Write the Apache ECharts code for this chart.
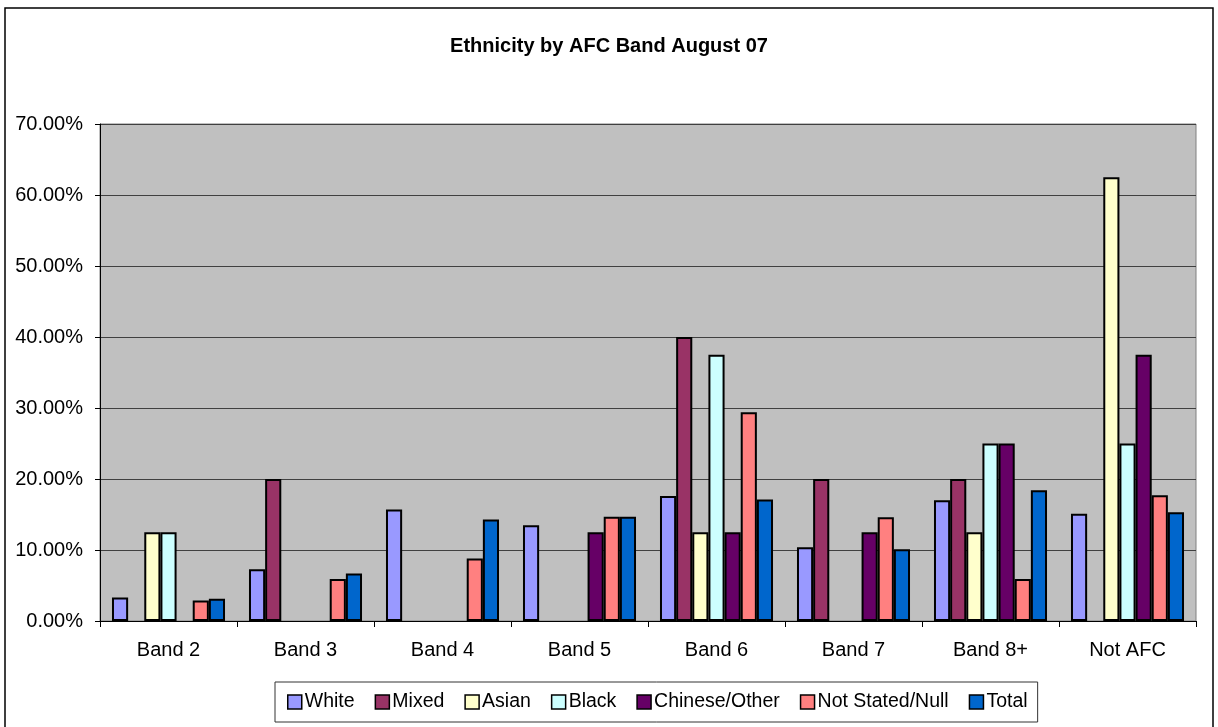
<!DOCTYPE html>
<html>
<head>
<meta charset="utf-8">
<title>Ethnicity by AFC Band August 07</title>
<script src="https://cdn.jsdelivr.net/npm/echarts@6/dist/echarts.min.js"></script>
<style>
  html, body { margin: 0; padding: 0; background: #ffffff; }
  #chart { width: 1218px; height: 727px; }
</style>
</head>
<body>
<div id="chart"></div>
<script>
// AFC pay bands along the category axis
const bands = ['Band 2', 'Band 3', 'Band 4', 'Band 5', 'Band 6', 'Band 7', 'Band 8+', 'Not AFC'];

// Share of each ethnic group in each band (percent); null = no staff
const white     = [3.3, 7.3, 15.7, 13.5, 17.6, 10.4, 17.0, 15.1];
const mixed     = [null, 20, null, null, 40, 20, 20, null];
const asian     = [12.5, null, null, null, 12.5, null, 12.5, 62.5];
const black     = [12.5, null, null, null, 37.5, null, 25, 25];
const chinese   = [null, null, null, 12.5, 12.5, 12.5, 25, 37.5];
const notStated = [2.9, 5.9, 8.8, 14.7, 29.4, 14.6, 5.9, 17.7];
const total     = [3.15, 6.7, 14.3, 14.7, 17.1, 10.1, 18.4, 15.3];

const seriesNames = ['White', 'Mixed', 'Asian', 'Black', 'Chinese/Other', 'Not Stated/Null', 'Total'];
const seriesData  = [white, mixed, asian, black, chinese, notStated, total];
const seriesColors = ['#9999FF', '#993366', '#FFFFCC', '#CCFFFF', '#660066', '#FF8080', '#0066CC'];

const FONT = "'Liberation Sans', Arial, sans-serif";

const chart = echarts.init(document.getElementById('chart'), null, { renderer: 'canvas' });

chart.setOption({
  animation: false,
  backgroundColor: '#ffffff',
  textStyle: { fontFamily: FONT, color: '#000' },
  title: {
    text: 'Ethnicity by AFC Band August 07',
    left: 'center',
    top: 31,
    textStyle: { fontFamily: FONT, fontSize: 20, fontWeight: 'bold', color: '#000' }
  },
  // outer frame of the chart
  graphic: [{
    type: 'rect',
    silent: true,
    z: -1,
    shape: { x: 5, y: 8, width: 1208, height: 740 },
    style: { fill: 'none', stroke: '#000', lineWidth: 1.5 }
  }],
  legend: {
    data: seriesNames,
    left: 275,
    top: 682,
    orient: 'horizontal',
    padding: [10, 10, 10, 12],
    itemGap: 20,
    itemWidth: 14,
    itemHeight: 14,
    icon: 'rect',
    borderColor: '#333',
    borderWidth: 1,
    backgroundColor: '#fff',
    itemStyle: { borderColor: '#000', borderWidth: 1.5 },
    textStyle: { fontFamily: FONT, fontSize: 19.5, color: '#000', padding: [0, 0, 0, -2] }
  },
  grid: {
    left: 100,
    right: 22,
    top: 124,
    bottom: 106,
    show: true,
    backgroundColor: '#C0C0C0',
    borderColor: '#808080',
    borderWidth: 1,
    containLabel: false
  },
  xAxis: {
    type: 'category',
    data: bands,
    boundaryGap: true,
    axisLine: { show: true, lineStyle: { color: '#000', width: 1 } },
    axisTick: { show: true, length: 6, lineStyle: { color: '#000' } },
    axisLabel: { fontFamily: FONT, fontSize: 20, color: '#000', margin: 19 },
    splitLine: { show: false }
  },
  yAxis: {
    type: 'value',
    min: 0,
    max: 70,
    interval: 10,
    axisLine: { show: true, lineStyle: { color: '#000', width: 1 } },
    axisTick: { show: true, length: 5, lineStyle: { color: '#000' } },
    axisLabel: {
      fontFamily: FONT,
      fontSize: 20,
      color: '#000',
      margin: 17,
      formatter: v => v.toFixed(2) + '%'
    },
    splitLine: { show: true, lineStyle: { color: '#404040', width: 1 } }
  },
  series: seriesNames.map((name, i) => ({
    name: name,
    type: 'bar',
    data: seriesData[i],
    barGap: '0%',
    barCategoryGap: '17.5%',
    itemStyle: {
      color: seriesColors[i],
      borderColor: '#000',
      borderWidth: 2
    }
  }))
});
</script>
</body>
</html>
